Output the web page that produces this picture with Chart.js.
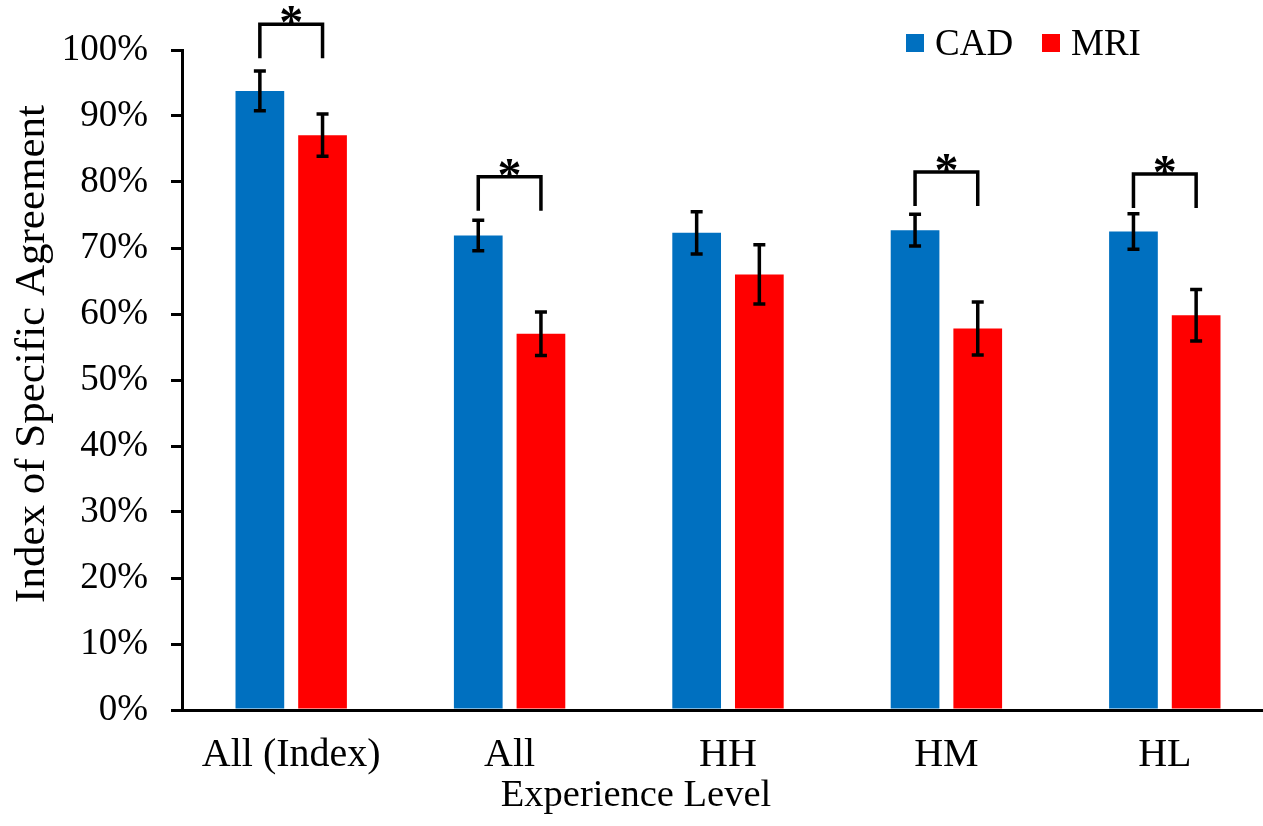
<!DOCTYPE html>
<html>
<head>
<meta charset="utf-8">
<script src="https://cdn.jsdelivr.net/npm/chart.js@4.4.1/dist/chart.umd.min.js"></script>
<style>
  html, body { margin: 0; padding: 0; background: #fff; overflow: hidden; }
  #wrap { width: 1290px; height: 826px; position: relative; }
</style>
</head>
<body>
<div id="wrap"><canvas id="chart" width="1290" height="826"></canvas></div>
<script>
// Experience-level groups on the category axis
const categories = ['All (Index)', 'All', 'HH', 'HM', 'HL'];

// Index of specific agreement (%) per method
const cadValues = [93.8, 71.9, 72.3, 72.7, 72.5];
const mriValues = [87.1, 57.0, 66.0, 57.8, 59.8];

// Error-bar half widths (%)
const cadErrors = [3.0, 2.3, 3.2, 2.4, 2.7];
const mriErrors = [3.2, 3.3, 4.5, 4.0, 3.9];

// Significance brackets: level of the bracket's top bar (%), null = not significant
const sigLevels = [103.9, 80.8, null, 81.5, 81.2];

// Y-axis tick values
const yTicks = [0, 10, 20, 30, 40, 50, 60, 70, 80, 90, 100];

const FONT = '"Liberation Serif", "Times New Roman", Times, serif';
const BLUE = '#0070C0';
const RED = '#FF0000';

// Error bars with caps, drawn from each bar's value and error
const errorBarPlugin = {
  id: 'errorBars',
  afterDatasetsDraw(chart) {
    const ctx = chart.ctx;
    const y = chart.scales.y;
    ctx.save();
    ctx.strokeStyle = '#000';
    ctx.lineWidth = 3.5;
    ctx.lineCap = 'butt';
    chart.data.datasets.forEach((ds, i) => {
      const meta = chart.getDatasetMeta(i);
      meta.data.forEach((bar, j) => {
        const v = ds.data[j], e = ds.errors[j];
        const top = y.getPixelForValue(v + e);
        const bot = y.getPixelForValue(v - e);
        const x = bar.x, cap = 6;
        ctx.beginPath();
        ctx.moveTo(x, top); ctx.lineTo(x, bot);
        ctx.moveTo(x - cap, top); ctx.lineTo(x + cap, top);
        ctx.moveTo(x - cap, bot); ctx.lineTo(x + cap, bot);
        ctx.stroke();
      });
    });
    ctx.restore();
  }
};

// Significance brackets with asterisks between paired bars
const bracketPlugin = {
  id: 'brackets',
  afterDatasetsDraw(chart) {
    const ctx = chart.ctx;
    const y = chart.scales.y;
    const a = chart.getDatasetMeta(0).data;
    const b = chart.getDatasetMeta(1).data;
    ctx.save();
    ctx.strokeStyle = '#000';
    ctx.fillStyle = '#000';
    ctx.lineWidth = 3.5;
    ctx.lineJoin = 'miter';
    sigLevels.forEach((lvl, j) => {
      if (lvl === null) return;
      const x1 = a[j].x, x2 = b[j].x;
      const yt = y.getPixelForValue(lvl);
      const leg = 34;
      ctx.beginPath();
      ctx.moveTo(x1, yt + leg);
      ctx.lineTo(x1, yt);
      ctx.lineTo(x2, yt);
      ctx.lineTo(x2, yt + leg);
      ctx.stroke();
      ctx.font = 'bold 48px ' + FONT;
      ctx.textAlign = 'center';
      ctx.textBaseline = 'alphabetic';
      ctx.fillText('*', (x1 + x2) / 2, yt + 14);
    });
    ctx.restore();
  }
};

// Legend and axis titles
const annotationPlugin = {
  id: 'annotations',
  afterDraw(chart) {
    const ctx = chart.ctx;
    ctx.save();
    ctx.fillStyle = '#000';

    // legend
    ctx.font = '37px ' + FONT;
    ctx.textBaseline = 'alphabetic';
    ctx.textAlign = 'left';
    let lx = 906;
    chart.data.datasets.forEach((ds) => {
      ctx.fillStyle = ds.backgroundColor;
      ctx.fillRect(lx, 34, 18, 18);
      ctx.fillStyle = '#000';
      ctx.fillText(ds.label, lx + 29, 55);
      lx += 136;
    });

    // x-axis title
    ctx.font = '38.5px ' + FONT;
    ctx.textAlign = 'center';
    ctx.fillText('Experience Level', 636, 806);

    // y-axis title
    ctx.font = '43px ' + FONT;
    ctx.translate(44, 354);
    ctx.rotate(-Math.PI / 2);
    ctx.fillText('Index of Specific Agreement', 0, 0);
    ctx.restore();
  }
};

new Chart(document.getElementById('chart'), {
  type: 'bar',
  data: {
    labels: categories,
    datasets: [
      { label: 'CAD', data: cadValues, errors: cadErrors, backgroundColor: BLUE },
      { label: 'MRI', data: mriValues, errors: mriErrors, backgroundColor: RED }
    ]
  },
  options: {
    responsive: false,
    animation: false,
    devicePixelRatio: 1,
    layout: { padding: { top: 50, right: 16, bottom: 0, left: 0 } },
    datasets: {
      bar: { categoryPercentage: 0.574, barPercentage: 0.777 }
    },
    plugins: {
      legend: { display: false },
      tooltip: { enabled: false }
    },
    scales: {
      x: {
        grid: { display: false },
        border: { display: true, color: '#000', width: 3 },
        ticks: { color: '#000', font: { family: FONT, size: 40 }, padding: 13, maxRotation: 0, autoSkip: false },
        afterFit(s) { s.height = 116; }
      },
      y: {
        min: 0,
        max: 100,
        afterBuildTicks(s) { s.ticks = yTicks.map(v => ({ value: v })); },
        ticks: {
          color: '#000',
          font: { family: FONT, size: 37 },
          padding: 23,
          callback: (v) => v + '%'
        },
        grid: { drawOnChartArea: false, drawTicks: true, tickLength: 11, color: '#000', lineWidth: 3 },
        border: { display: true, color: '#000', width: 3 },
        afterFit(s) { s.width = 182; }
      }
    }
  },
  plugins: [errorBarPlugin, bracketPlugin, annotationPlugin]
});
</script>
</body>
</html>
